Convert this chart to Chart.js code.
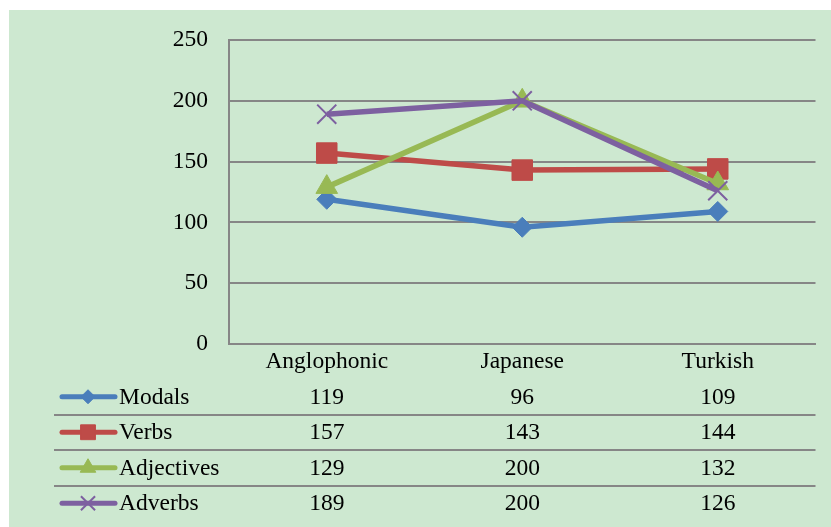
<!DOCTYPE html>
<html>
<head>
<meta charset="utf-8">
<title>Modals, Verbs, Adjectives and Adverbs by group</title>
<script src="https://cdn.jsdelivr.net/npm/chart.js"></script>
<style>
  html, body { margin: 0; padding: 0; background: #ffffff; }
  canvas { display: block; }
</style>
</head>
<body>
<canvas id="chart" width="831" height="527"></canvas>
<script>
// Groups along the x axis
const categories = ['Anglophonic', 'Japanese', 'Turkish'];

// Series values per group
const modals = [119, 96, 109];
const verbs = [157, 143, 144];
const adjectives = [129, 200, 132];
const adverbs = [189, 200, 126];

const seriesNames = ['Modals', 'Verbs', 'Adjectives', 'Adverbs'];

// Value axis ticks
const yTicks = [0, 50, 100, 150, 200, 250];

const FONT = "'Liberation Serif', 'Times New Roman', serif";
const GRID = '#868686';
const BG = 'rgb(205,232,208)';

const styles = [
  { color: '#4A7EBB', point: 'rectRot', r: 10, lr: 7 },
  { color: '#BE4B48', point: 'rect', r: 14.5, lr: 10.5 },
  { color: '#98B954', point: 'triangle', r: 12.5, lr: 9 },
  { color: '#7D60A0', point: 'crossRot', r: 13.5, lr: 10 }
];
const seriesData = [modals, verbs, adjectives, adverbs];

// Fill the green panel behind everything
const panelBackground = {
  id: 'panelBackground',
  beforeDraw(chart) {
    const ctx = chart.ctx;
    ctx.save();
    ctx.fillStyle = BG;
    ctx.fillRect(9, 10, chart.width - 9, chart.height - 10);
    ctx.restore();
  }
};

function drawMarker(ctx, style, radius, x, y) {
  const opts = {
    pointStyle: style.point,
    radius: radius,
    rotation: 0,
    borderWidth: style.point === 'crossRot' ? 2 : 1
  };
  ctx.save();
  ctx.fillStyle = style.color;
  ctx.strokeStyle = style.color;
  ctx.lineWidth = opts.borderWidth;
  Chart.helpers.drawPoint(ctx, opts, x, y);
  ctx.restore();
}

// Data table with legend keys under the plot
const dataTable = {
  id: 'dataTable',
  afterDraw(chart) {
    const ctx = chart.ctx;
    const area = chart.chartArea;
    const xs = chart.scales.x;
    const rowTop = area.bottom + 35;
    const rowH = 35.5;
    const tableLeft = 54;

    ctx.save();
    // row separators
    ctx.strokeStyle = GRID;
    ctx.lineWidth = 2;
    for (let i = 1; i < seriesNames.length; i++) {
      const y = Math.round(rowTop + rowH * i);
      ctx.beginPath();
      ctx.moveTo(tableLeft, y);
      ctx.lineTo(area.right, y);
      ctx.stroke();
    }

    ctx.font = '23.5px ' + FONT;
    ctx.fillStyle = '#000000';
    ctx.textBaseline = 'middle';

    seriesNames.forEach((name, i) => {
      const cy = rowTop + rowH * i + rowH / 2;
      const st = styles[i];
      // legend key
      ctx.save();
      ctx.strokeStyle = st.color;
      ctx.lineWidth = 5;
      ctx.lineCap = 'round';
      ctx.beginPath();
      ctx.moveTo(62, cy);
      ctx.lineTo(115, cy);
      ctx.stroke();
      ctx.restore();
      drawMarker(ctx, st, st.lr, 88, cy);

      ctx.fillStyle = '#000000';
      ctx.textAlign = 'left';
      ctx.fillText(name, 119, cy + 1);

      ctx.textAlign = 'center';
      seriesData[i].forEach((v, j) => {
        ctx.fillText(String(v), xs.getPixelForValue(j), cy + 1);
      });
    });
    ctx.restore();
  }
};

const datasets = seriesNames.map((name, i) => {
  const st = styles[i];
  return {
    label: name,
    data: seriesData[i],
    borderColor: st.color,
    backgroundColor: st.color,
    borderWidth: 5.5,
    tension: 0,
    pointStyle: st.point,
    pointRadius: st.r,
    pointHoverRadius: st.r,
    pointBackgroundColor: st.color,
    pointBorderColor: st.color,
    pointBorderWidth: st.point === 'crossRot' ? 2 : 1,
    order: seriesNames.length - i
  };
});

new Chart(document.getElementById('chart'), {
  type: 'line',
  data: { labels: categories, datasets: datasets },
  plugins: [panelBackground, dataTable],
  options: {
    responsive: false,
    animation: false,
    devicePixelRatio: 1,
    layout: { padding: { left: 0, top: 40, right: 15, bottom: 0 } },
    plugins: {
      legend: { display: false },
      title: { display: false },
      tooltip: { enabled: false }
    },
    scales: {
      x: {
        type: 'category',
        offset: true,
        grid: { display: false, drawTicks: false },
        border: { display: true, color: GRID, width: 2 },
        ticks: {
          color: '#000000',
          font: { family: FONT, size: 23.5 },
          padding: 4,
          maxRotation: 0,
          autoSkip: false
        },
        afterFit(scale) { scale.height = 183; }
      },
      y: {
        min: 0,
        max: 250,
        afterBuildTicks(scale) {
          scale.ticks = yTicks.map(v => ({ value: v }));
        },
        grid: { color: GRID, lineWidth: 2, drawTicks: false },
        border: { display: true, color: GRID, width: 2 },
        ticks: {
          color: '#000000',
          font: { family: FONT, size: 23.5 },
          padding: 21
        },
        afterFit(scale) { scale.width = 229; }
      }
    }
  }
});
</script>
</body>
</html>
